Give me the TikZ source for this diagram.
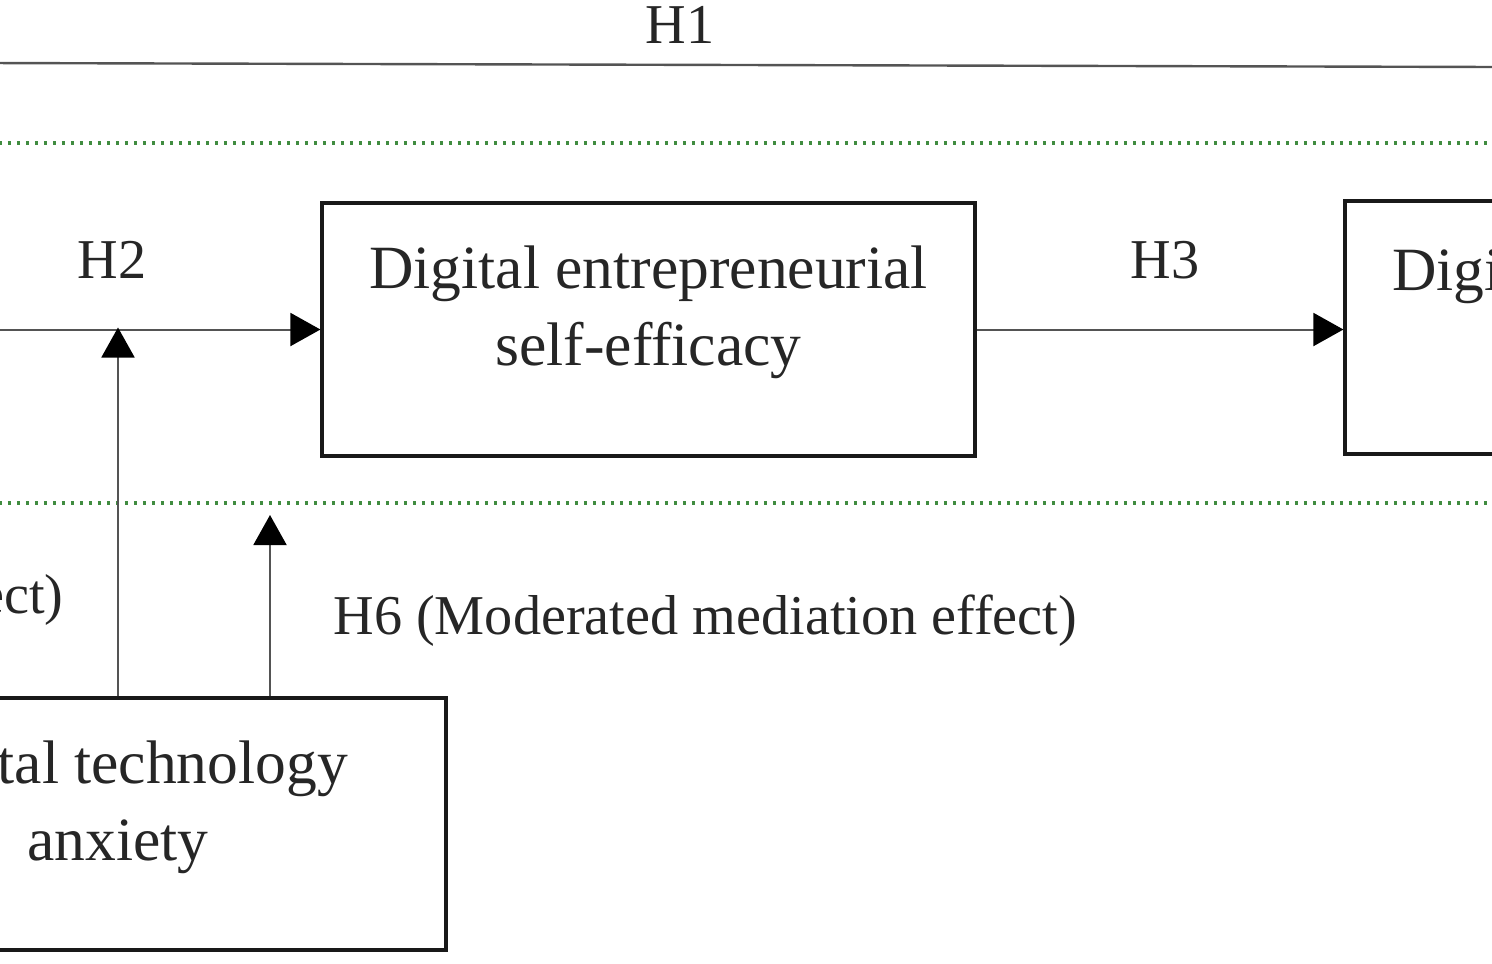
\documentclass[tikz,border=0pt]{standalone}
\usepackage{fontspec}
\setmainfont{Liberation Serif}
\usetikzlibrary{arrows.meta}

\definecolor{linegray}{rgb}{0.33,0.33,0.33}
\definecolor{dotgreen}{rgb}{0.25,0.55,0.25}

\begin{document}
\begin{tikzpicture}[
		varbox/.style={draw=black!90, line width=0.032cm, minimum width=6.53cm, minimum height=2.53cm, inner sep=0pt},
		vartext/.style={align=center, font=\fontsize{17.5}{22}\selectfont, text=black!85},
		hlabel/.style={font=\fontsize{16}{19}\selectfont, text=black!85},
		path/.style={draw=linegray, line width=0.02cm},
		arr/.style={path, -{Triangle[length=0.3cm, width=0.33cm, color=black]}},
		zone/.style={draw=dotgreen, line width=0.04cm, dash pattern=on 0.03cm off 0.06cm}
	]
				\useasboundingbox (0,0) rectangle (14.92,-9.63);
				\clip (0,0) rectangle (14.92,-9.63);
				
				% Boxes
				\node[varbox] (dese) at (6.485,-3.295) {};
				\node[vartext] (desetxt) at ([yshift=0.17cm]dese.center) {Digital entrepreneurial\\self-efficacy};
				
				\node[varbox] (deint) at (16.715,-3.275) {};
				\node[vartext] (deinttxt) at ([yshift=0.19cm]deint.center) {Digital entrepreneurial\\intention};
				
				\node[varbox, minimum width=6.56cm, minimum height=2.52cm] (anx) at (1.18,-8.24) {};
				\node[vartext] (anxtxt) at ([yshift=0.17cm]anx.center) {Digital technology\\anxiety};
				
				% Dotted zone
				\coordinate (zl1) at (-0.1,-1.43);
				\coordinate (zr1) at (15.0,-1.43);
				\coordinate (zl2) at (-0.1,-5.03);
				\coordinate (zr2) at (15.0,-5.03);
				\draw[zone] (zl1) -- (zr1);
				\draw[zone] (zl2) -- (zr2);
				
				% H1 line
				\coordinate (h1l) at (-0.1,-0.63);
				\coordinate (h1r) at (15.0,-0.67);
				\draw[path, line width=0.024cm] (h1l) -- (h1r);
				\node[hlabel] (h1) at (6.80,-0.25) {H1};
				
				% Paths
				\coordinate (src) at (-0.1,-3.25);
				\draw[arr] (src |- dese.west) -- (dese.west);
				\node[hlabel] (h2) at (1.12,-2.60) {H2};
				
				\draw[arr] (dese.east) -- (dese.east -| deint.west);
				\node[hlabel] (h3) at (11.65,-2.60) {H3};
				
				% Moderation
				\draw[arr, shorten >=-0.02cm] (anx.north) -- (anx.north |- dese.west);
				\node[hlabel, anchor=east] (h5) at (0.76,-6.00) {H5 (Moderating effect)};
				
				\coordinate (h6tip) at (2.70,-5.15);
				\draw[arr] (anx.north -| h6tip) -- (h6tip);
				\node[hlabel, anchor=west] (h6) at (3.21,-6.21) {H6 (Moderated mediation effect)};
			\end{tikzpicture}
\end{document}
